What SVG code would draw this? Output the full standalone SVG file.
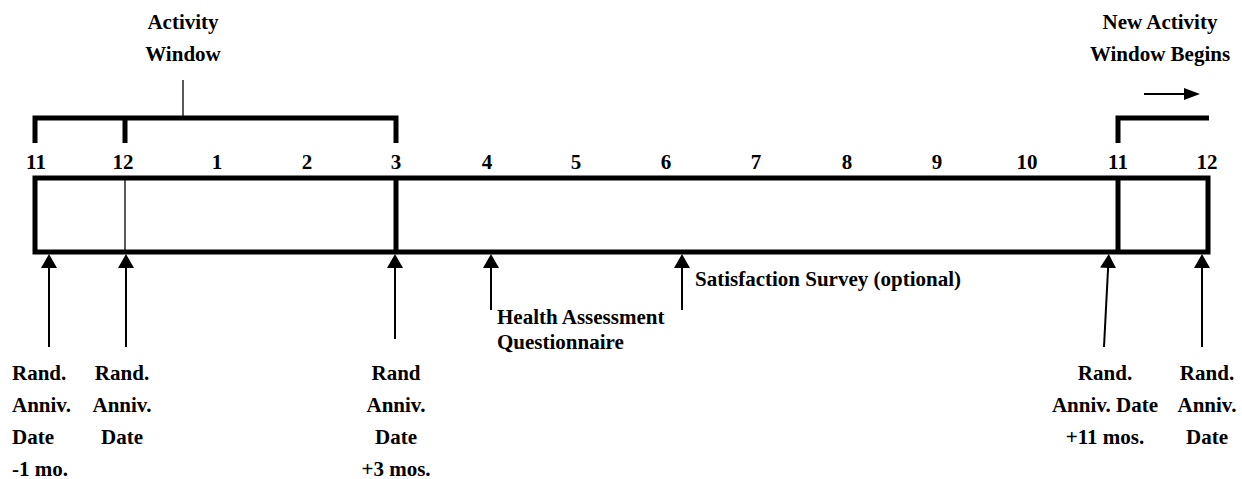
<svg xmlns="http://www.w3.org/2000/svg" width="1242" height="479" viewBox="0 0 1242 479">
  <style>
    text { font-family: "Liberation Serif", "Times New Roman", serif; font-weight: bold; font-size: 21px; fill: #000; }
    .c { text-anchor: middle; }
    .thick { stroke: #000; stroke-width: 5; fill: none; }
    .thin { stroke: #000; stroke-width: 1.3; fill: none; }
    .arrow { stroke: #000; stroke-width: 2; fill: none; marker-end: url(#head); }
    .arrowS { stroke: #000; stroke-width: 2; fill: none; marker-end: url(#headS); }
  </style>
  <defs>
    <marker id="head" markerUnits="userSpaceOnUse" markerWidth="14" markerHeight="16" viewBox="0 0 14 16" refX="10" refY="8" orient="auto">
      <path d="M0,0 L14,8 L0,16 z" fill="#000"/>
    </marker>
    <marker id="headS" markerUnits="userSpaceOnUse" markerWidth="16" markerHeight="12" viewBox="0 0 16 12" refX="12" refY="6" orient="auto">
      <path d="M0,0 L16,6 L0,12 z" fill="#000"/>
    </marker>
  </defs>
  <rect width="1242" height="479" fill="#fff"/>

  <g id="activity-window">
    <text class="c" x="183" y="29">Activity</text>
    <text class="c" x="183" y="61">Window</text>
    <line class="thin" x1="183" y1="80" x2="183" y2="117"/>
    <path class="thick" d="M35,143 V118 H396 V143"/>
    <line class="thick" x1="125" y1="118" x2="125" y2="143"/>
  </g>

  <g id="new-activity-window">
    <text class="c" x="1160" y="29">New Activity</text>
    <text class="c" x="1160" y="61">Window Begins</text>
    <path class="thick" d="M1118,143 V118 H1209"/>
  </g>

  <g id="month-labels">
    <text class="c" x="36" y="169">11</text>
    <text class="c" x="123" y="169">12</text>
    <text class="c" x="217" y="169">1</text>
    <text class="c" x="307" y="169">2</text>
    <text class="c" x="396" y="169">3</text>
    <text class="c" x="487" y="169">4</text>
    <text class="c" x="576" y="169">5</text>
    <text class="c" x="666" y="169">6</text>
    <text class="c" x="756" y="169">7</text>
    <text class="c" x="847" y="169">8</text>
    <text class="c" x="937" y="169">9</text>
    <text class="c" x="1027" y="169">10</text>
    <text class="c" x="1118" y="169">11</text>
    <text class="c" x="1207" y="169">12</text>
  </g>

  <g id="timeline">
    <rect class="thick" x="35" y="178" width="1173" height="74"/>
    <line class="thin" x1="125" y1="178" x2="125" y2="252"/>
    <line class="thick" x1="396" y1="178" x2="396" y2="252"/>
    <line class="thick" x1="1118" y1="178" x2="1118" y2="252"/>
  </g>

  <g id="connectors">
    <line class="arrow" x1="49" y1="347" x2="49" y2="258"/>
    <line class="arrow" x1="126" y1="347" x2="126" y2="258"/>
    <line class="arrow" x1="395" y1="339" x2="395" y2="258"/>
    <line class="arrow" x1="491" y1="310" x2="491" y2="258"/>
    <line class="arrow" x1="682" y1="310" x2="682" y2="258"/>
    <line class="arrow" x1="1104" y1="347" x2="1108.6" y2="258"/>
    <line class="arrow" x1="1202" y1="347" x2="1202" y2="258"/>
    <line class="arrowS" x1="1144" y1="94" x2="1196" y2="94"/>
  </g>

  <g id="label-health">
    <text x="497" y="324">Health Assessment</text>
    <text x="497" y="349">Questionnaire</text>
  </g>
  <g id="label-satisfaction">
    <text x="695" y="286">Satisfaction Survey (optional)</text>
  </g>

  <g id="label-minus1">
    <text x="12" y="380">Rand.</text>
    <text x="12" y="412">Anniv.</text>
    <text x="12" y="444">Date</text>
    <text x="12" y="476">-1 mo.</text>
  </g>
  <g id="label-anniv">
    <text class="c" x="122" y="380">Rand.</text>
    <text class="c" x="122" y="412">Anniv.</text>
    <text class="c" x="122" y="444">Date</text>
  </g>
  <g id="label-plus3">
    <text class="c" x="396" y="380">Rand</text>
    <text class="c" x="396" y="412">Anniv.</text>
    <text class="c" x="396" y="444">Date</text>
    <text class="c" x="396" y="476">+3 mos.</text>
  </g>
  <g id="label-plus11">
    <text class="c" x="1105" y="380">Rand.</text>
    <text class="c" x="1105" y="412">Anniv. Date</text>
    <text class="c" x="1105" y="444">+11 mos.</text>
  </g>
  <g id="label-anniv2">
    <text class="c" x="1207" y="380">Rand.</text>
    <text class="c" x="1207" y="412">Anniv.</text>
    <text class="c" x="1207" y="444">Date</text>
  </g>
</svg>
